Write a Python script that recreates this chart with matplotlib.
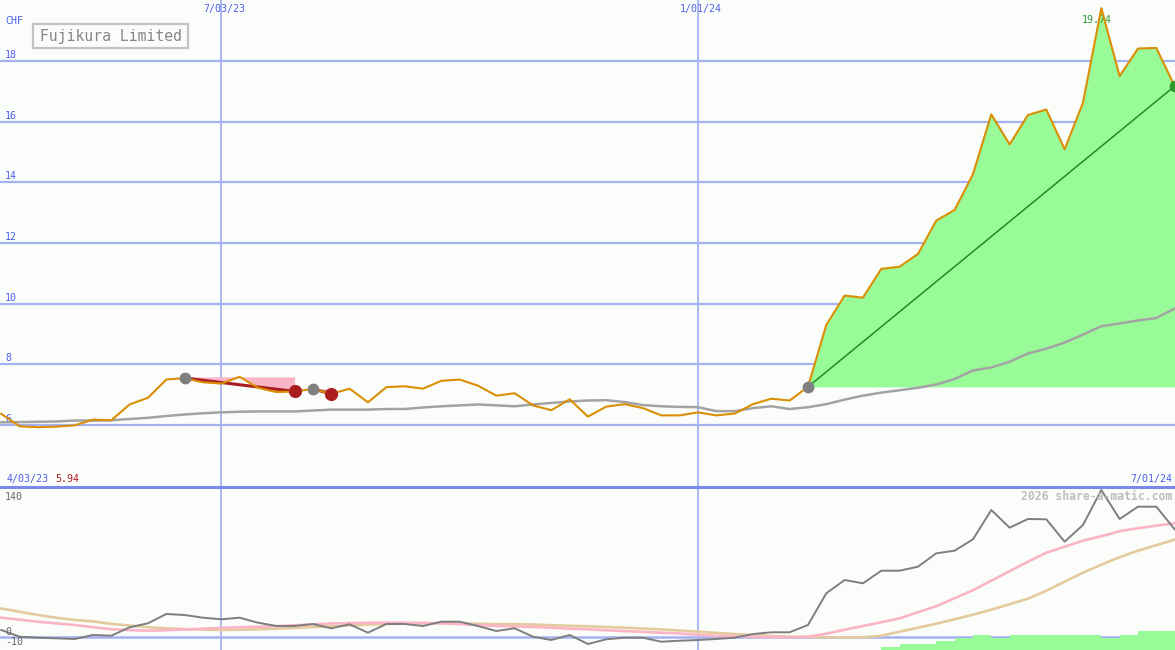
import numpy as np
import matplotlib
matplotlib.use("Agg")
import matplotlib.pyplot as plt
from matplotlib.lines import Line2D
from matplotlib.patches import Rectangle

# ---------------- data ----------------
week = np.arange(-12, 53)  # weeks relative to 7/03/23 (weekly closes)

price = [6.37, 5.96, 5.93, 5.95, 5.99, 6.18, 6.16, 6.68, 6.90, 7.50, 7.55, 7.41,
         7.37, 7.59, 7.23, 7.09, 7.11, 7.19, 7.03, 7.20, 6.75, 7.25, 7.28,
         7.20, 7.46, 7.50, 7.30, 6.97, 7.05, 6.65, 6.49, 6.85, 6.28,
         6.61, 6.69, 6.56, 6.32, 6.32, 6.42, 6.32, 6.38, 6.69, 6.87,
         6.81, 7.26, 9.30, 10.27, 10.20, 11.15, 11.22, 11.64, 12.74, 13.09,
         14.27, 16.24, 15.25, 16.22, 16.40, 15.09, 16.62, 19.74, 17.50, 18.41, 18.43, 17.17]

avg = [6.09, 6.10, 6.11, 6.12, 6.15, 6.15, 6.16, 6.20, 6.24, 6.30, 6.35, 6.39,
       6.42, 6.44, 6.45, 6.45, 6.45, 6.48, 6.51, 6.51, 6.51, 6.53, 6.53,
       6.58, 6.62, 6.65, 6.68, 6.65, 6.62, 6.68, 6.73, 6.78, 6.81,
       6.82, 6.76, 6.66, 6.62, 6.60, 6.59, 6.46, 6.46, 6.56, 6.62,
       6.53, 6.59, 6.69, 6.84, 6.97, 7.07, 7.15, 7.23, 7.34, 7.52,
       7.80, 7.90, 8.09, 8.36, 8.52, 8.72, 8.98, 9.26, 9.35, 9.45, 9.53, 9.84]

momentum = [6.7, 0, -1, -1.6, -2.3, 1.7, 1, 9.4, 13.4, 22.7, 21.7, 19,
            17.4, 19, 14, 10.7, 10.7, 12.7, 8.4, 12.4, 4, 12.7, 12.7,
            10.7, 15, 15, 10.7, 5.7, 8.4, 0, -3.3, 1.7, -7.3,
            -2.6, -1, -1, -5, -4, -3.3, -2.3, -1, 2.7, 4.4,
            4.4, 11.7, 43.4, 56.7, 53.4, 66, 66, 70, 83.4, 86,
            97.4, 126.7, 109, 117.7, 117.4, 95, 111.7, 146.7, 117.7, 130, 130, 107.4]

mom_fast = [19, 17, 15, 13.3, 11.7, 9.5, 7.5, 6.6, 6, 6.4, 7.3, 8,
            8.9, 9.4, 9.9, 10.6, 11.4, 12.3, 13.2, 13.6, 13.9, 14, 14,
            13.8, 13.5, 12.7, 11.6, 10.8, 10.3, 9.7, 8.9, 8, 7.3,
            6.5, 5.6, 4.8, 4, 3.2, 2, 0.9, 0.4, 0, -0.3,
            -0.6, 0, 3, 7, 10.7, 14.5, 18.4, 24.5, 30.5, 38.5,
            46.5, 56, 65.5, 75, 84, 90, 96, 100.5, 105.5, 108.5, 111, 113.4]

mom_slow = [28.2, 25, 21.7, 19, 16.7, 15.3, 12.8, 11.2, 9.5, 8.4, 7.5, 7,
            6.7, 6.9, 7.4, 8, 8.8, 9.6, 10.5, 11.3, 12.1, 12.8, 13.3,
            13.4, 13.4, 13.2, 12.9, 12.6, 12.5, 12.2, 11.4, 10.9, 10.4,
            9.7, 9, 8.2, 7.3, 6.2, 5, 3.8, 2.7, 1.6, 0.7,
            0, -0.3, -0.6, -0.6, -0.6, 1.0, 5, 9, 13, 17.5,
            22, 27, 32.5, 38, 46, 55, 64, 72, 79.5, 86, 91.5, 97]

hist_weeks = [36, 37, 38, 39, 40, 41, 42, 43, 44, 45, 46, 47, 48, 49, 50, 51, 52]
hist_top = [-10.3, -7.3, -7.3, -4.3, -1.3, 1.7, -1.3, 1.7, 1.7, 1.7, 1.7, 1.7,
            -1.3, 1.7, 5.7, 5.7, 5.7]

date_weeks = [0, 26]
date_labels = ["7/03/23", "1/01/24"]
price_ticks = [6, 8, 10, 12, 14, 16, 18]
title = "Fujikura Limited"
currency = "CHF"
start_label, end_label = "4/03/23", "7/01/24"
low_label = "5.94"
peak_label = "19.74"
mom_labels = [("140", 140), ("0", 0), ("-10", -10)]
watermark = "2026 share-a-matic.com"
sell_segments = [(-2, 4), (5, 6)]
trend_segment = (32, 52)

# ---------------- style ----------------
W, H = 1175, 650
BG = "#FBFDFB"
GRID = "#A4B2F2"
BLUE_TXT = "#4D5FEA"
ORANGE = "#DA8E04"
GREEN_FILL = "#98FB98"
MONO = "DejaVu Sans Mono"

price = np.array(price)
week = np.asarray(week)

fig = plt.figure(figsize=(W / 100, H / 100), dpi=100, facecolor=BG)

XL = (-12.07, 52.02)
top_px = 487
ax = fig.add_axes([0, (H - top_px) / H, 1, top_px / H])
ax.set_xlim(*XL)
ax.set_ylim(3.96, 20.01)
ax.axis("off")

ax2 = fig.add_axes([0, 0, 1, (H - 488) / H])
ax2.set_xlim(*XL)
ax2.set_ylim(-13.3, 148.7)
ax2.axis("off")

def ptext(x, y, s, **kw):
    fig.text(x / W, 1 - y / H, s, **kw)

# grid lines + labels (top)
for v in price_ticks:
    ax.axhline(v, color=GRID, lw=1.6, zorder=1)
    ax.annotate(str(v), xy=(0, v), xycoords=ax.get_yaxis_transform(),
                xytext=(5, 6), textcoords="offset pixels", ha="left", va="center",
                fontsize=7.2, family=MONO, color=BLUE_TXT, zorder=1)
for k, lab in zip(date_weeks, date_labels):
    ax.axvline(k, color=GRID, lw=1.3, zorder=1)
    ax2.axvline(k, color=GRID, lw=1.3, zorder=1)
    ax.annotate(lab, xy=(k, 1), xycoords=ax.get_xaxis_transform(),
                xytext=(3, -9), textcoords="offset pixels", ha="center", va="center",
                fontsize=7.2, family=MONO, color=BLUE_TXT)

ptext(5, 21, currency, ha="left", va="center", fontsize=7.2, family=MONO, color=BLUE_TXT)

# title box
fig.add_artist(Rectangle((32.5 / W, 1 - 48 / H), 155.5 / W, 24 / H, transform=fig.transFigure,
                         facecolor="none", edgecolor="#C4C4C4", lw=1.6))
ptext(110.5, 36.5, title, ha="center", va="center", fontsize=10.6, family=MONO, color="#858585")

# rising trend: green fill + line
a, b = trend_segment
seg = (week >= a) & (week <= b)
base = price[week == a][0]
ax.fill_between(week[seg], price[seg], base, color=GREEN_FILL, lw=0, zorder=2)

# sell segments (pink fill + red line)
for s0, s1 in sell_segments:
    sm = (week >= s0) & (week <= s1)
    top = price[sm].max()
    ax.fill_between(week[sm], price[sm], top, color="#F9B4C8", lw=0, zorder=2)

ax.plot(week, avg, color="#A3A3A3", lw=1.8, zorder=3)

for s0, s1 in sell_segments:
    p0 = price[week == s0][0]
    p1 = price[week == s1][0]
    ax.plot([s0, s1], [p0, p1], color="#A81E1E", lw=2.2, zorder=4, solid_capstyle="round")

ax.plot([a, b], [base, price[week == b][0]], color="#1E8E1E", lw=1.1, zorder=4)

# peak label (behind price line)
pk = week[np.argmax(price)]
ax.annotate(peak_label, xy=(pk, price.max()), xytext=(-5, -12), textcoords="offset pixels",
            ha="center", va="center", fontsize=7.2, family=MONO, color="#2E9A2E", zorder=4)

ax.plot(week, price, color=ORANGE, lw=1.5, zorder=5)

# markers
for s0, s1 in sell_segments:
    ax.plot([s0], [price[week == s0][0]], "o", ms=8.5, color="#808080", mew=0, zorder=6)
    ax.plot([s1], [price[week == s1][0]], "o", ms=9.5, color="#AA1E1E", mew=0, zorder=6)
ax.plot([a], [base], "o", ms=8.5, color="#808080", mew=0, zorder=6)
ax.plot([b], [price[week == b][0]], "o", ms=8.5, color="#2A992A", mew=0, zorder=6)

# separator & bottom-of-top labels
fig.add_artist(Line2D([0, 1], [1 - 487 / H] * 2, transform=fig.transFigure, color="#7A8AEA", lw=2.2))
ptext(7, 479, start_label, ha="left", va="center", fontsize=7.2, family=MONO, color=BLUE_TXT)
ptext(55, 479, low_label, ha="left", va="center", fontsize=7.2, family=MONO, color="#B02020")
ptext(1172, 479, end_label, ha="right", va="center", fontsize=7.2, family=MONO, color=BLUE_TXT)

# lower panel
ax2.axhline(0, color=GRID, lw=1.8, zorder=1)
y0 = ax2.get_ylim()[0]
ax2.bar(hist_weeks, np.array(hist_top) - y0, bottom=y0, width=1.0, align="edge",
        color=GREEN_FILL, lw=0, zorder=2)
ax2.plot(week, mom_slow, color="#E4CB9E", lw=1.9, zorder=3)
ax2.plot(week, mom_fast, color="#FAB4C6", lw=1.9, zorder=3)
ax2.plot(week, momentum, color="#7E7E7E", lw=1.4, zorder=4)

for lab, v in mom_labels:
    off = 0 if v > 100 else 5
    ax2.annotate(lab, xy=(0, v), xycoords=ax2.get_yaxis_transform(),
                 xytext=(5, off), textcoords="offset pixels", ha="left", va="center",
                 fontsize=7.2, family=MONO, color="#666666", zorder=6)

ptext(1172, 496, watermark, ha="right", va="center", fontsize=8.3, family=MONO,
      color="#BEBEBE", fontweight="bold", zorder=0)

fig.savefig("out.png", dpi=100, facecolor=BG)
